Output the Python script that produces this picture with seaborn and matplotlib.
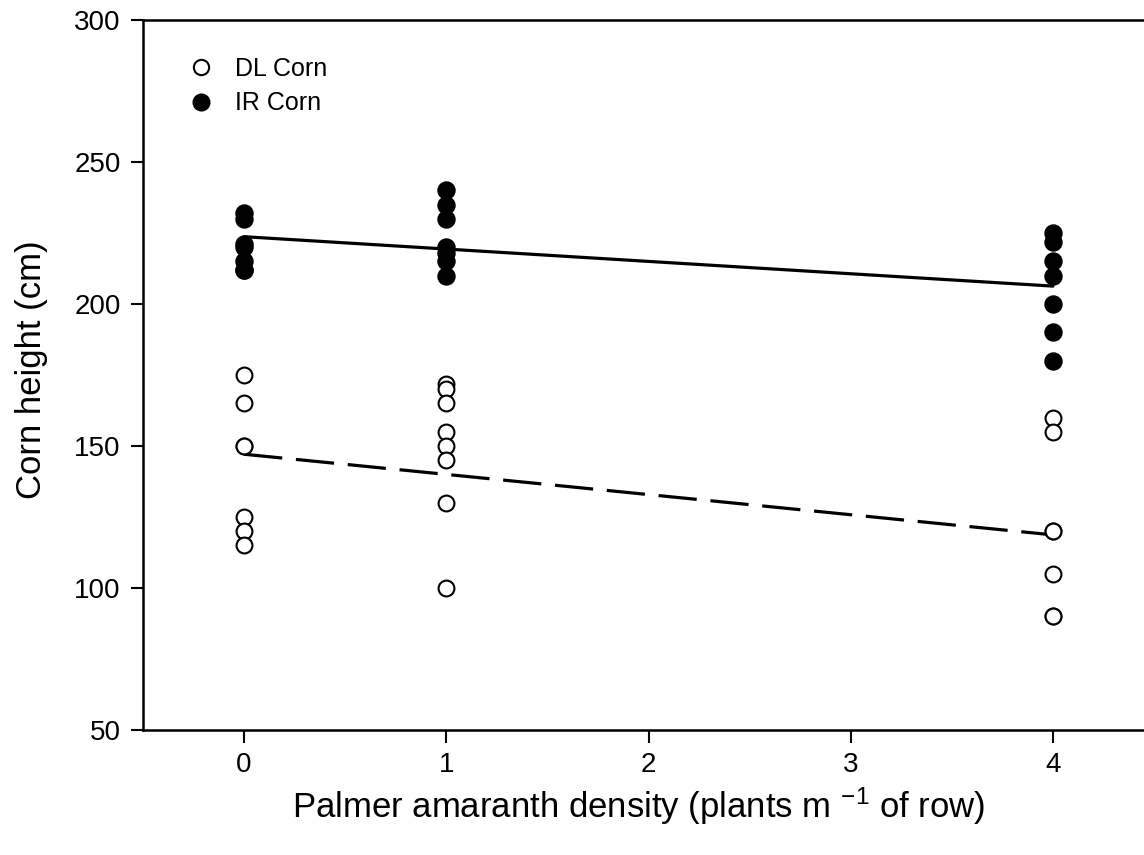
import matplotlib
matplotlib.use("Agg")
import matplotlib.pyplot as plt
import seaborn as sns
import pandas as pd
from matplotlib.lines import Line2D

# ---- data ----
dl_x0 = [175, 165, 150, 150, 125, 120, 115]
dl_x1 = [172, 170, 165, 155, 150, 145, 130, 100]
dl_x4 = [160, 155, 120, 120, 105, 90, 90]
ir_x0 = [232, 230, 221, 220, 215, 212, 212]
ir_x1 = [240, 235, 230, 220, 218, 215, 210]
ir_x4 = [225, 222, 215, 210, 200, 190, 180]
densities = [0, 1, 4]
fit_x = [0, 4]
ir_fit = [223.7, 206.3]
dl_fit = [147.1, 118.7]
x_ticks = [0, 1, 2, 3, 4]
y_ticks = [50, 100, 150, 200, 250, 300]

def to_df(groups):
    rows = []
    for d, vals in zip(densities, groups):
        for v in vals:
            rows.append({"density": d, "height": v})
    return pd.DataFrame(rows)

dl_df = to_df([dl_x0, dl_x1, dl_x4])
ir_df = to_df([ir_x0, ir_x1, ir_x4])
dl_fit_df = pd.DataFrame({"density": fit_x, "height": dl_fit})
ir_fit_df = pd.DataFrame({"density": fit_x, "height": ir_fit})

sns.set_theme(style="ticks")
plt.rcParams["font.family"] = ["Liberation Sans", "DejaVu Sans"]
plt.rcParams["mathtext.fontset"] = "custom"
plt.rcParams["mathtext.rm"] = "Liberation Sans"
plt.rcParams["mathtext.it"] = "Liberation Sans"
plt.rcParams["mathtext.default"] = "regular"
plt.rcParams["text.color"] = "black"
plt.rcParams["axes.labelcolor"] = "black"

fig = plt.figure(figsize=(11.44, 8.55), dpi=100)
ax = fig.add_axes([143 / 1144, 1 - 730 / 855, 1011 / 1144, 710 / 855])

sns.lineplot(data=ir_fit_df, x="density", y="height", ax=ax, color="black",
             linewidth=2.3, zorder=2)
sns.lineplot(data=dl_fit_df, x="density", y="height", ax=ax, color="black",
             linewidth=2.3, zorder=2)
ax.lines[-1].set_dashes([12, 4.3])

sns.scatterplot(data=dl_df, x="density", y="height", ax=ax, marker="o",
                s=130, facecolor="white", edgecolor="black", linewidth=1.5,
                zorder=3)
sns.scatterplot(data=ir_df, x="density", y="height", ax=ax, marker="o",
                s=150, color="black", edgecolor="black", linewidth=1.0,
                zorder=3)

ax.set_xlim(-0.5, 4.5)
ax.set_ylim(50, 300)
ax.set_xticks(x_ticks)
ax.set_yticks(y_ticks)
ax.tick_params(axis="both", direction="out", length=9, width=1.5,
               labelsize=20, color="black", labelcolor="black", pad=7)
for side in ["left", "bottom", "top", "right"]:
    ax.spines[side].set_color("black")
    ax.spines[side].set_linewidth(1.8)
ax.set_facecolor("white")

ax.set_xlabel(r"Palmer amaranth density (plants m $^{-1}$ of row)",
              fontsize=25, labelpad=22)
ax.xaxis.set_label_coords(0.49, -0.078)
ax.set_ylabel("Corn height (cm)", fontsize=25, labelpad=14)
ax.yaxis.set_label_coords(-0.094, 0.508)

handles = [
    Line2D([], [], marker="o", linestyle="none", markersize=11,
           markerfacecolor="white", markeredgecolor="black", markeredgewidth=1.5),
    Line2D([], [], marker="o", linestyle="none", markersize=12,
           markerfacecolor="black", markeredgecolor="black"),
]
ax.legend(handles, ["DL Corn", "IR Corn"], loc="upper left",
          bbox_to_anchor=(0.023, 0.962), frameon=False, fontsize=18,
          handletextpad=0.35, labelspacing=0.42, borderaxespad=0)

fig.savefig("out.png", dpi=100, facecolor="white")
